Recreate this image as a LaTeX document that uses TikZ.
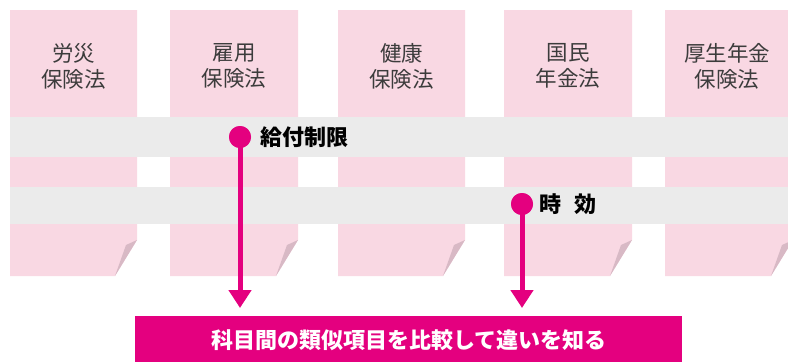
\documentclass[tikz,border=0pt]{standalone}
\usepackage{fontspec}
\newfontfamily\jp{Noto Sans CJK JP}
\usetikzlibrary{arrows.meta}
\definecolor{colpink}{HTML}{F9D8E3}
\definecolor{foldc}{HTML}{D8B9C5}
\definecolor{bandgray}{HTML}{EBEBEB}
\definecolor{magenta}{HTML}{E4007F}
\definecolor{labgray}{HTML}{3C3C3C}
\tikzset{
  collabel/.style={font=\jp\fontsize{21.5}{26}\selectfont, text=labgray, align=center, inner sep=0pt},
  itemlabel/.style={font=\jp\bfseries\fontsize{22}{24}\selectfont, text=black, anchor=west, inner sep=0pt},
  dotnode/.style={circle, fill=magenta, minimum size=22pt, inner sep=0pt},
  pointer/.style={draw=magenta, line width=5pt, -{Triangle[width=22pt,length=18pt]}, shorten >=8pt},
  barbox/.style={fill=magenta, inner sep=0pt, anchor=north west}
}
\begin{document}
\begin{tikzpicture}[x=1pt,y=-1pt]
\useasboundingbox (0,0) rectangle (788,362);
\begin{scope}
\clip (0,0) rectangle (788,362);
% columns
\foreach \xa/\xb in {10/137,170/298,338/465,504/632,665/793}{
  \fill[colpink] (\xa,10) -- (\xb,10) -- (\xb,240) -- (\xb-22,276) -- (\xa,276) -- cycle;
  \fill[foldc] (\xb-11,245) -- (\xb,240) -- (\xb-22,276) -- cycle;
}
% bands
\fill[bandgray] (10,117) rectangle (788,157);
\fill[bandgray] (10,187) rectangle (788,224);
\end{scope}
% column labels
\node[collabel] (c1) at (73.5,66) {労災\\保険法};
\node[collabel] (c2) at (234,66) {雇用\\保険法};
\node[collabel] (c3) at (401.5,66) {健康\\保険法};
\node[collabel] (c4) at (568,66) {国民\\年金法};
\node[collabel] (c5) at (727,66) {厚生年金\\保険法};
% bottom bar
\node[barbox, minimum width=547pt, minimum height=46pt] (bar) at (135,316) {};
\node[font=\jp\bfseries\fontsize{22}{24}\selectfont, text=white, inner sep=0pt] (bartext) at (409,340) {科目間の類似項目を比較して違いを知る};
% pointers
\node[dotnode] (d1) at (240,137) {};
\node[dotnode] (d2) at (522,204) {};
\draw[pointer] (d1.center) -- (d1.center |- bar.north);
\draw[pointer] (d2.center) -- (d2.center |- bar.north);
\node[dotnode] at (d1) {};
\node[dotnode] at (d2) {};
\node[itemlabel] (l1) at (260,137) {給付制限};
\node[itemlabel] (l2) at (539,204) {時\hspace{0.6em}効};
\end{tikzpicture}
\end{document}
